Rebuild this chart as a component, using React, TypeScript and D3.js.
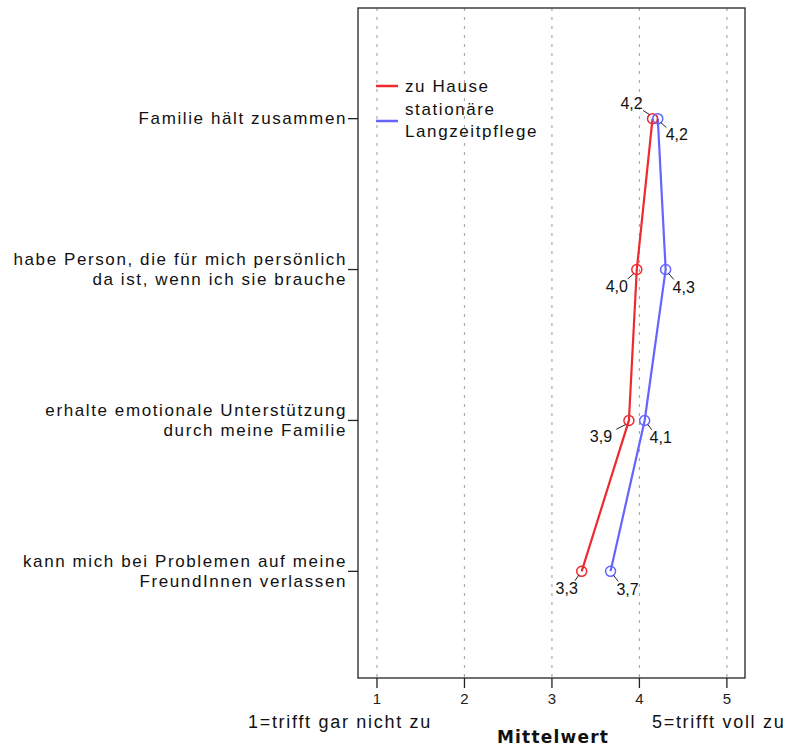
import React from "react";
import * as d3 from "d3";

const categories = [
  "Familie hält zusammen",
  "habe Person, die für mich persönlich|da ist, wenn ich sie brauche",
  "erhalte emotionale Unterstützung|durch meine Familie",
  "kann mich bei Problemen auf meine|FreundInnen verlassen",
];
const homeValues = [4.15, 3.97, 3.88, 3.34];
const careValues = [4.21, 4.3, 4.06, 3.67];
const homeLabels = ["4,2", "4,0", "3,9", "3,3"];
const careLabels = ["4,2", "4,3", "4,1", "3,7"];
const xTicks = [1, 2, 3, 4, 5];
const seriesNames = ["zu Hause", "stationäre|Langzeitpflege"];

const W = 790;
const H = 746;
const plot = { left: 358, right: 745, top: 8, bottom: 678 };
const RED = "#ee2a2f";
const BLUE = "#6464ff";
const FONT = "'Liberation Sans', Arial, sans-serif";
const SPACING = 1.6;

const App: React.FC = () => {
  const x = d3.scaleLinear().domain([0.783, 5.207]).range([plot.left, plot.right]);
  const y = d3
    .scalePoint<string>()
    .domain(categories)
    .range([plot.top + 2, plot.bottom + 2])
    .padding(0.72);

  const line = d3
    .line<number>()
    .x((d) => x(d))
    .y((_, i) => y(categories[i])!);

  // label placement per point: dx, dy of text centre relative to marker
  const homeOffsets = [
    [-21, -15],
    [-20, 17],
    [-28, 16],
    [-15, 17],
  ];
  const careOffsets = [
    [19, 16],
    [18, 18],
    [16, 17],
    [17, 18],
  ];

  const renderLabels = (
    vals: number[],
    labels: string[],
    offs: number[][],
    key: string
  ) =>
    vals.map((v, i) => {
      const cx = x(v);
      const cy = y(categories[i])!;
      const [dx, dy] = offs[i];
      const ux = Math.sign(dx);
      const uy = Math.sign(dy);
      return (
        <g key={key + i}>
          <line
            x1={cx + ux * 3}
            y1={cy + uy * 4}
            x2={cx + dx * 0.45}
            y2={cy + dy * 0.55}
            stroke="#222"
            strokeWidth={1}
          />
          <text
            x={cx + dx}
            y={cy + dy}
            textAnchor="middle"
            dominantBaseline="central"
            fontSize={16}
            fill="#111"
          >
            {labels[i]}
          </text>
        </g>
      );
    });

  return (
    <svg
      width={W}
      height={H}
      style={{ position: "absolute", left: 0, top: 0, background: "#fff" }}
      fontFamily={FONT}
    >
      <rect x={0} y={0} width={W} height={H} fill="#fff" />
      {xTicks.map((t) => (
        <line
          key={"g" + t}
          x1={x(t)}
          x2={x(t)}
          y1={plot.top}
          y2={plot.bottom}
          stroke="#aaa"
          strokeDasharray="3 6"
          strokeWidth={1.2}
        />
      ))}
      <rect
        x={plot.left}
        y={plot.top}
        width={plot.right - plot.left}
        height={plot.bottom - plot.top}
        fill="none"
        stroke="#222"
        strokeWidth={1.3}
      />
      {xTicks.map((t) => (
        <g key={"t" + t}>
          <line x1={x(t)} x2={x(t)} y1={plot.bottom} y2={plot.bottom + 10} stroke="#222" strokeWidth={1.3} />
          <text x={x(t)} y={plot.bottom + 20} textAnchor="middle" dominantBaseline="central" fontSize={15} fill="#222">
            {t}
          </text>
        </g>
      ))}
      {categories.map((c) => {
        const parts = c.split("|");
        const cy = y(c)!;
        return (
          <g key={c}>
            <line x1={plot.left - 10} x2={plot.left} y1={cy} y2={cy} stroke="#222" strokeWidth={1.3} />
            {parts.map((p, j) => (
              <text
                key={j}
                x={plot.left - 11}
                y={cy + (j - (parts.length - 1) / 2) * 19.5}
                textAnchor="end"
                dominantBaseline="central"
                fontSize={17}
                letterSpacing={SPACING}
                fill="#111"
              >
                {p}
              </text>
            ))}
          </g>
        );
      })}
      <path d={line(homeValues)!} fill="none" stroke={RED} strokeWidth={2.2} />
      <path d={line(careValues)!} fill="none" stroke={BLUE} strokeWidth={2.2} />
      {homeValues.map((v, i) => (
        <circle key={"hc" + i} cx={x(v)} cy={y(categories[i])!} r={5} fill="none" stroke={RED} strokeWidth={1.5} />
      ))}
      {careValues.map((v, i) => (
        <circle key={"cc" + i} cx={x(v)} cy={y(categories[i])!} r={5} fill="none" stroke={BLUE} strokeWidth={1.5} />
      ))}
      {renderLabels(homeValues, homeLabels, homeOffsets, "hl")}
      {renderLabels(careValues, careLabels, careOffsets, "cl")}
      <g fontSize={17} fill="#111" letterSpacing={SPACING}>
        <line x1={376} x2={398} y1={86} y2={86} stroke={RED} strokeWidth={2.5} />
        <text x={405} y={86} dominantBaseline="central">{seriesNames[0]}</text>
        <line x1={376} x2={398} y1={121} y2={121} stroke={BLUE} strokeWidth={2.5} />
        {seriesNames[1].split("|").map((p, j) => (
          <text key={j} x={405} y={109 + j * 22} dominantBaseline="central">{p}</text>
        ))}
      </g>
      <text x={248} y={722} fontSize={18} letterSpacing={1.7} fill="#111" dominantBaseline="central">
        1=trifft gar nicht zu
      </text>
      <text
        x={553}
        y={737}
        fontSize={17}
        fontFamily="'DejaVu Sans', sans-serif"
        fontWeight="bold"
        letterSpacing={1.2}
        fill="#111"
        textAnchor="middle"
        dominantBaseline="central"
      >
        Mittelwert
      </text>
      <text x={652} y={722} fontSize={18} letterSpacing={1.7} fill="#111" dominantBaseline="central">
        5=trifft voll zu
      </text>
    </svg>
  );
};

export default App;
